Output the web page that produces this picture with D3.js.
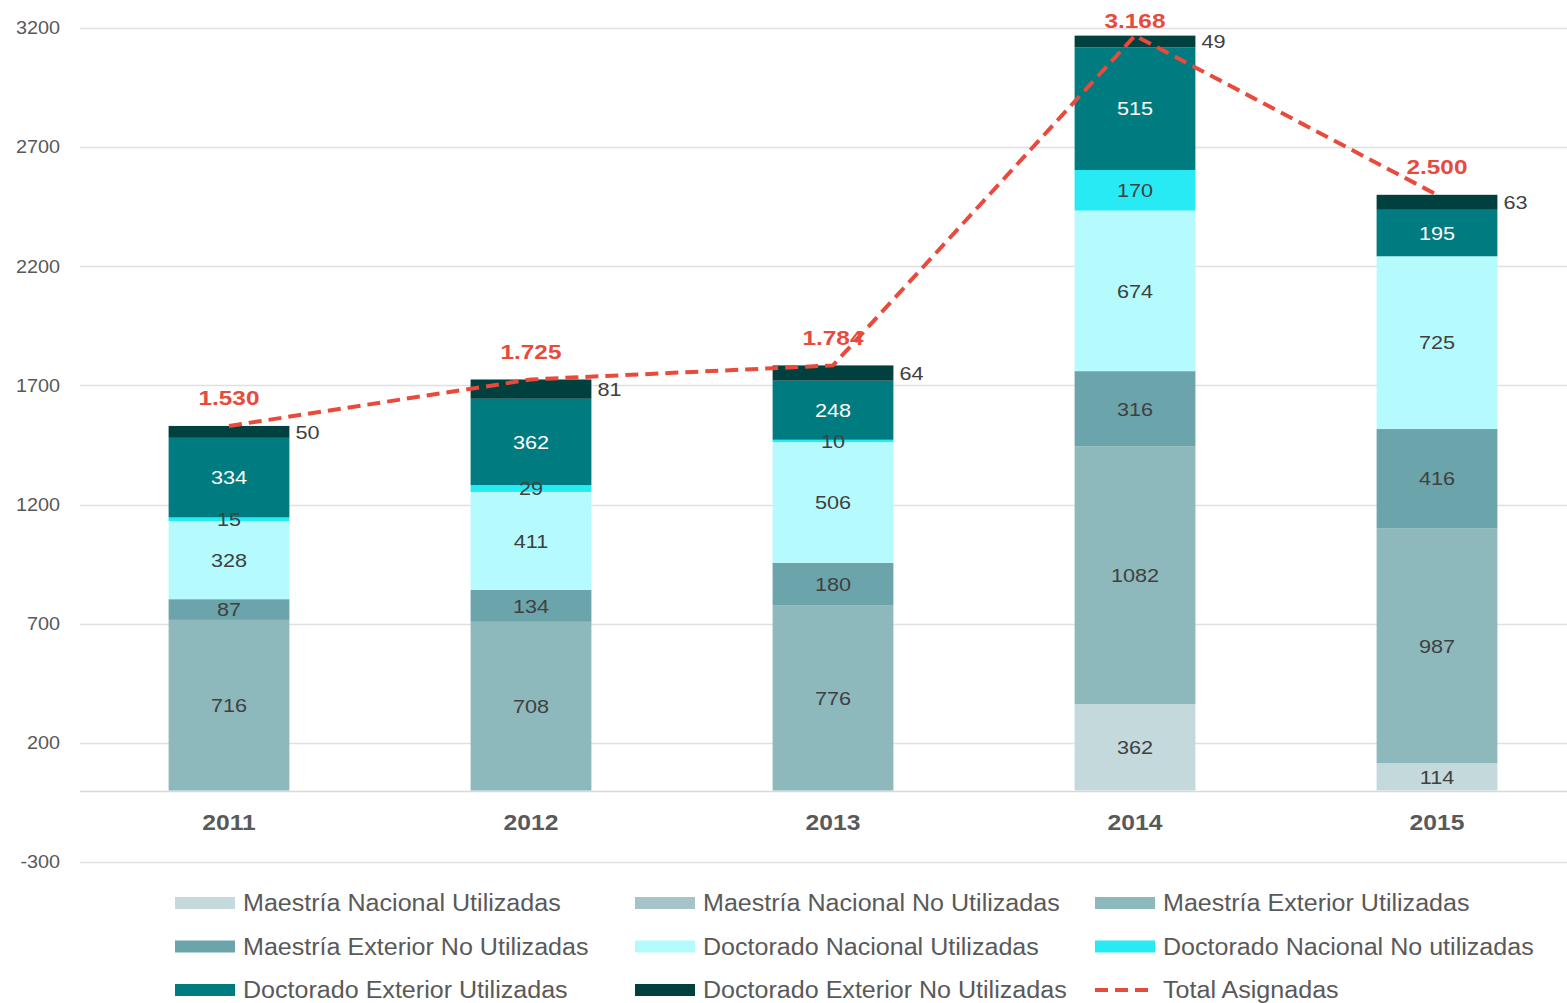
<!DOCTYPE html>
<html>
<head>
<meta charset="utf-8">
<script src="https://cdn.jsdelivr.net/npm/d3@7"></script>
<style>
  body { margin: 0; background: #fff; }
  svg { display: block; font-family: "Liberation Sans", Arial, sans-serif; }
</style>
</head>
<body>
<div id="chart"></div>
<script>
var years = ['2011', '2012', '2013', '2014', '2015'];

var seriesNames = [
  'Maestría Nacional Utilizadas',
  'Maestría Nacional No Utilizadas',
  'Maestría Exterior Utilizadas',
  'Maestría Exterior No Utilizadas',
  'Doctorado Nacional Utilizadas',
  'Doctorado Nacional No utilizadas',
  'Doctorado Exterior Utilizadas',
  'Doctorado Exterior No Utilizadas'
];

var maestriaNacUtil   = [0, 0, 0, 362, 114];
var maestriaNacNoUtil = [0, 0, 0, 0, 0];
var maestriaExtUtil   = [716, 708, 776, 1082, 987];
var maestriaExtNoUtil = [87, 134, 180, 316, 416];
var doctNacUtil       = [328, 411, 506, 674, 725];
var doctNacNoUtil     = [15, 29, 10, 170, 0];
var doctExtUtil       = [334, 362, 248, 515, 195];
var doctExtNoUtil     = [50, 81, 64, 49, 63];

var totalAsignadas = [1530, 1725, 1784, 3168, 2500];
var totalLabels = ['1.530', '1.725', '1.784', '3.168', '2.500'];

var yTicks = [-300, 200, 700, 1200, 1700, 2200, 2700, 3200];

var seriesColors = ['#c4d9dc', '#a6c4c8', '#8db8bc', '#6ba4aa',
                    '#b5fbfd', '#27eaf5', '#007b7f', '#00403f'];

var allSeries = [maestriaNacUtil, maestriaNacNoUtil, maestriaExtUtil, maestriaExtNoUtil,
                 doctNacUtil, doctNacNoUtil, doctExtUtil, doctExtNoUtil];

var width = 1567, height = 1003;

var svg = d3.select('#chart').append('svg')
    .attr('width', width)
    .attr('height', height);

// the source picture is slightly stretched horizontally; widen glyphs to match
function stretch(sel, k) {
  sel.each(function() {
    var w = this.getComputedTextLength();
    d3.select(this)
      .attr('textLength', w * k)
      .attr('lengthAdjust', 'spacingAndGlyphs');
  });
}

var x = d3.scaleBand()
    .domain(years)
    .range([78, 1588])
    .paddingInner(0.6)
    .paddingOuter(0.3);

var y = d3.scaleLinear()
    .domain([-300, 3200])
    .range([862, 28]);

// table for the stack
var table = years.map(function(yr, i) {
  var row = { year: yr };
  seriesNames.forEach(function(s, k) { row[s] = allSeries[k][i]; });
  return row;
});

var stacked = d3.stack().keys(seriesNames)(table);

// gridlines
svg.append('g')
    .attr('class', 'grid')
    .selectAll('line')
    .data(yTicks)
    .enter().append('line')
      .attr('x1', 80)
      .attr('x2', width)
      .attr('y1', function(d) { return Math.round(y(d)) + 0.5; })
      .attr('y2', function(d) { return Math.round(y(d)) + 0.5; })
      .attr('stroke', '#e0e0e0')
      .attr('stroke-width', 1.3);

// y labels
var yAxis = svg.append('g')
    .attr('transform', 'translate(60,0)')
    .call(d3.axisLeft(y).tickValues(yTicks).tickSize(0).tickPadding(0)
      .tickFormat(function(d) { return String(d); }));
yAxis.select('.domain').remove();
yAxis.selectAll('text')
    .attr('fill', '#595959')
    .style('font-size', '18px')
    .style('font-family', '"Liberation Sans", Arial, sans-serif')
    .call(stretch, 1.1);

// zero line
svg.append('line')
    .attr('x1', 80).attr('x2', width)
    .attr('y1', Math.round(y(0)) + 0.5).attr('y2', Math.round(y(0)) + 0.5)
    .attr('stroke', '#d9d9d9')
    .attr('stroke-width', 1.5);

// bars
var layers = svg.append('g').attr('class', 'bars')
  .selectAll('g')
  .data(stacked)
  .enter().append('g')
    .attr('fill', function(d, i) { return seriesColors[i]; });

layers.selectAll('rect')
  .data(function(d) { return d; })
  .enter().append('rect')
    .attr('x', function(d) { return x(d.data.year); })
    .attr('width', x.bandwidth())
    .attr('y', function(d) { return y(d[1]); })
    .attr('height', function(d) { return y(d[0]) - y(d[1]); });

// segment labels
stacked.forEach(function(layer, k) {
  if (k === 7) return;
  svg.append('g')
    .selectAll('text')
    .data(layer.filter(function(d) { return d[1] - d[0] > 0; }))
    .enter().append('text')
      .attr('x', function(d) { return x(d.data.year) + x.bandwidth() / 2; })
      .attr('y', function(d) { return y((d[0] + d[1]) / 2); })
      .attr('dy', '0.36em')
      .attr('text-anchor', 'middle')
      .attr('fill', k === 6 ? '#ffffff' : '#404040')
      .style('font-size', '19px')
      .text(function(d) { return d[1] - d[0]; })
      .call(stretch, 1.14);
});

// top segment labels, outside right
svg.append('g')
  .selectAll('text')
  .data(stacked[7])
  .enter().append('text')
    .attr('x', function(d) { return x(d.data.year) + x.bandwidth() + 6; })
    .attr('y', function(d) { return y((d[0] + d[1]) / 2); })
    .attr('dy', '0.36em')
    .attr('fill', '#404040')
    .style('font-size', '19px')
    .text(function(d) { return d[1] - d[0]; })
    .call(stretch, 1.14);

// year labels
svg.append('g')
  .selectAll('text')
  .data(years)
  .enter().append('text')
    .attr('x', function(d) { return x(d) + x.bandwidth() / 2; })
    .attr('y', 830)
    .attr('text-anchor', 'middle')
    .attr('fill', '#595959')
    .style('font-size', '22px')
    .style('font-weight', 'bold')
    .text(function(d) { return d; })
    .call(stretch, 1.12);

// total line
var line = d3.line()
    .x(function(d, i) { return x(years[i]) + x.bandwidth() / 2; })
    .y(function(d) { return y(d); });

svg.append('path')
    .datum(totalAsignadas)
    .attr('d', line)
    .attr('fill', 'none')
    .attr('stroke', '#e84a3c')
    .attr('stroke-width', 4)
    .attr('stroke-dasharray', '13,7');

svg.append('g')
  .selectAll('text')
  .data(totalAsignadas)
  .enter().append('text')
    .attr('x', function(d, i) { return x(years[i]) + x.bandwidth() / 2; })
    .attr('y', function(d) { return Math.max(y(d) - 28, 20); })
    .attr('dy', '0.36em')
    .attr('text-anchor', 'middle')
    .attr('fill', '#e84a3c')
    .style('font-size', '21px')
    .style('font-weight', 'bold')
    .text(function(d, i) { return totalLabels[i]; })
    .call(stretch, 1.16);

// legend
var legendItems = seriesNames.concat(['Total Asignadas']);
var legend = svg.append('g').attr('class', 'legend')
  .selectAll('g')
  .data(legendItems)
  .enter().append('g')
    .attr('transform', function(d, i) {
      return 'translate(' + (175 + (i % 3) * 460) + ',' + (903 + Math.floor(i / 3) * 43.5) + ')';
    });

legend.filter(function(d, i) { return i < 8; })
  .append('rect')
    .attr('x', 0)
    .attr('y', -6)
    .attr('width', 60)
    .attr('height', 12)
    .attr('fill', function(d, i) { return seriesColors[i]; });

legend.filter(function(d, i) { return i === 8; })
  .append('line')
    .attr('x1', 0).attr('x2', 60)
    .attr('y1', 0).attr('y2', 0)
    .attr('stroke', '#e84a3c')
    .attr('stroke-width', 4)
    .attr('stroke-dasharray', '13,7');

legend.append('text')
    .attr('x', 68)
    .attr('y', 0)
    .attr('dy', '0.36em')
    .attr('fill', '#595959')
    .style('font-size', '23px')
    .text(function(d) { return d; })
    .call(stretch, 1.09);
</script>
</body>
</html>
